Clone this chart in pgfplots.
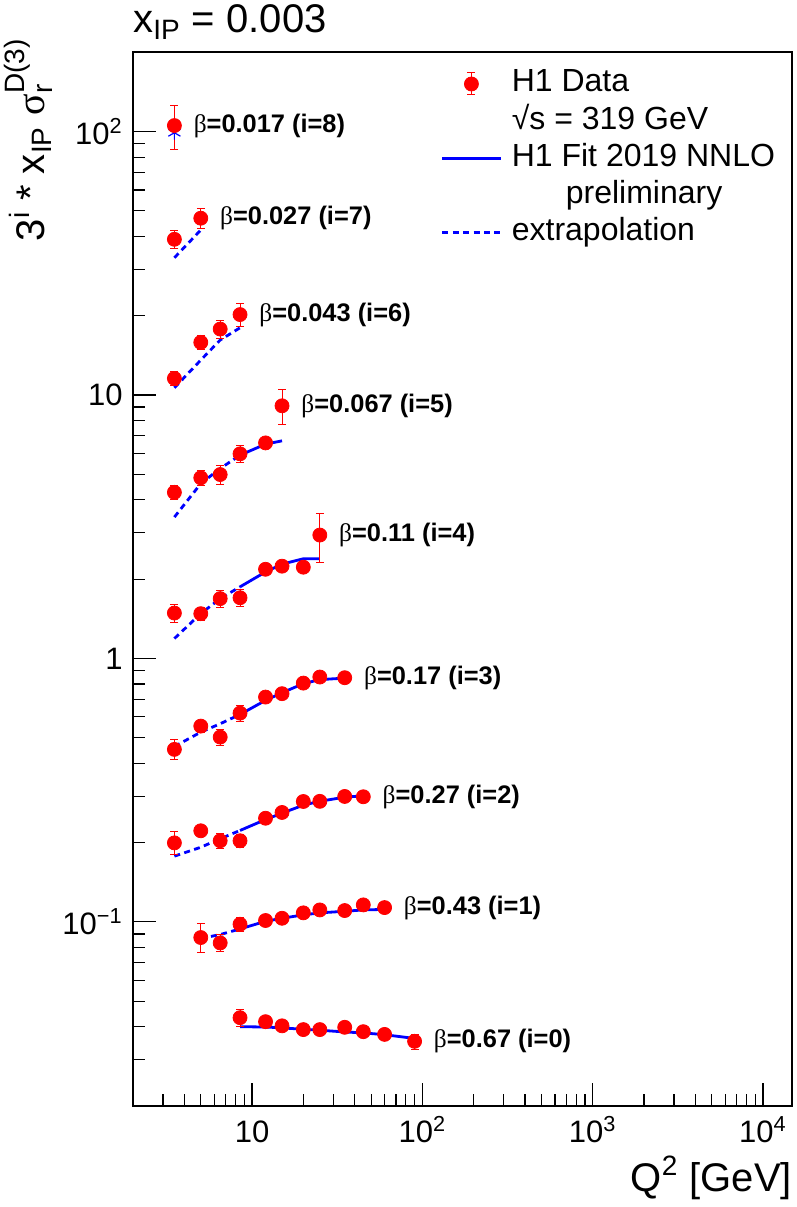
\documentclass[border=0pt]{standalone}
\usepackage{fontspec}
\setmainfont{Liberation Sans}
\newfontfamily\greekfont{Liberation Serif}
\usepackage{amsmath}
\usepackage{pgfplots}
\usepackage{pgfplotstable}
\pgfplotsset{compat=1.18}

% data: Q2, 3^i * xIP * sigma_r, error
\pgfplotstableread[row sep=\\]{x y e\\ 3.5 105.4 20\\}\dataviii
\pgfplotstableread[row sep=\\]{x y e\\ 3.5 39.0 3.0\\ 5 46.9 4.0\\}\datavii
\pgfplotstableread[row sep=\\]{x y e\\ 3.5 11.56 0.7\\ 5 15.84 1.0\\ 6.5 17.8 1.4\\ 8.5 20.2 2.0\\}\datavi
\pgfplotstableread[row sep=\\]{x y e\\ 3.5 4.27 0.25\\ 5 4.85 0.3\\ 6.5 4.99 0.4\\ 8.5 5.98 0.45\\ 12 6.58 0.3\\ 15 9.10 1.35\\}\datav
\pgfplotstableread[row sep=\\]{x y e\\ 3.5 1.487 0.12\\ 5 1.479 0.08\\ 6.5 1.687 0.12\\ 8.5 1.70 0.12\\ 12 2.18 0.08\\ 15 2.24 0.08\\ 20 2.22 0.08\\ 25 2.94 0.62\\}\dataiv
\pgfplotstableread[row sep=\\]{x y e\\ 3.5 0.4516 0.04\\ 5 0.5535 0.03\\ 6.5 0.5028 0.035\\ 8.5 0.620 0.045\\ 12 0.7135 0.03\\ 15 0.735 0.03\\ 20 0.806 0.03\\ 25 0.850 0.03\\ 35 0.845 0.03\\}\dataiii
\pgfplotstableread[row sep=\\]{x y e\\ 3.5 0.1995 0.02\\ 5 0.2217 0.01\\ 6.5 0.2032 0.014\\ 8.5 0.2032 0.012\\ 12 0.2474 0.01\\ 15 0.2602 0.01\\ 20 0.2864 0.01\\ 25 0.2868 0.01\\ 35 0.2993 0.01\\ 45 0.2985 0.01\\}\dataii
\pgfplotstableread[row sep=\\]{x y e\\ 5 0.0872 0.011\\ 6.5 0.0832 0.006\\ 8.5 0.0979 0.006\\ 12 0.1012 0.004\\ 15 0.1032 0.004\\ 20 0.1082 0.004\\ 25 0.111 0.004\\ 35 0.1104 0.004\\ 45 0.116 0.004\\ 60 0.1133 0.004\\}\datai
\pgfplotstableread[row sep=\\]{x y e\\ 8.5 0.04328 0.0033\\ 12 0.0418 0.0015\\ 15 0.0403 0.0015\\ 20 0.0390 0.0015\\ 25 0.0390 0.0015\\ 35 0.0398 0.0015\\ 45 0.0383 0.0015\\ 60 0.0374 0.0015\\ 90 0.0352 0.0023\\}\datazero

\pgfplotsset{
  fitline/.style={blue, line width=1.4pt, forget plot},
  extrap/.style={blue, line width=1.4pt, dash pattern=on 3pt off 2.2pt, forget plot},
  h1data/.style={only marks, mark=*, mark size=3.5pt, red, forget plot,
    mark options={fill=red, draw=red},
    error bars/.cd, y dir=both, y explicit,
    error bar style={red, line width=0.5pt},
    error mark options={red, line width=0.5pt, mark size=2pt, rotate=90}},
}

\begin{document}
\begin{tikzpicture}
\begin{axis}[
  xmode=log, ymode=log,
  scale only axis, width=329.65pt, height=526.85pt,
  xmin=2, xmax=14860, ymin=0.02, ymax=200,
  clip=false,
  axis line style={line width=0.9pt},
  tick pos=left,
  tick align=inside,
  major tick length=11.5pt, minor tick length=6pt,
  every tick/.style={black, line width=0.6pt},
  xtick={10,100,1000,10000},
  minor xtick={2,3,4,5,6,7,8,9,20,30,40,50,60,70,80,90,200,300,400,500,600,700,800,900,2000,3000,4000,5000,6000,7000,8000,9000},
  xticklabels={10, 10$^{\text{2}}$, 10$^{\text{3}}$, 10$^{\text{4}}$},
  ytick={0.1,1,10,100},
  minor ytick={0.02,0.03,0.04,0.05,0.06,0.07,0.08,0.09,0.2,0.3,0.4,0.5,0.6,0.7,0.8,0.9,2,3,4,5,6,7,8,9,20,30,40,50,60,70,80,90,200},
  yticklabels={10$^{\text{−1}}$, 1, 10, 10$^{\text{2}}$},
  tick label style={font=\fontsize{15.5}{15.5}\selectfont, inner sep=0pt},
  xticklabel style={anchor=base, yshift=-18pt},
  yticklabel style={anchor=east, xshift=-5pt},
  legend cell align=left,
  legend style={at={(0.4672,0.9851)}, anchor=north west, draw=none, fill=none,
    inner sep=0pt, outer sep=0pt, font=\fontsize{16}{16}\selectfont,
    row sep=2.6pt, nodes={inner sep=0pt, text height=12pt, text depth=4pt},
    /tikz/every odd column/.append style={column sep=4.5pt}},
]
\coordinate (BL) at (rel axis cs:0,0);
\coordinate (TR) at (rel axis cs:1,1);

% fits
\addplot[only marks, mark=asterisk, blue, mark size=3.5pt, line width=0.6pt, forget plot] coordinates {(3.5,99)};
\addplot[extrap] coordinates {(3.5,33.2) (5,42.3)};
\addplot[extrap] coordinates {(3.5,10.65) (5,13.57) (6.5,16.17) (8.5,18.0)};
\addplot[extrap] coordinates {(3.5,3.44) (5,4.61) (6.5,5.26) (8.5,5.91)};
\addplot[fitline] coordinates {(8.5,5.91) (12,6.51) (15,6.70)};
\addplot[extrap] coordinates {(3.5,1.19) (5,1.48) (6.5,1.687) (8.5,1.87)};
\addplot[fitline] coordinates {(8.5,1.87) (12,2.13) (15,2.28) (20,2.39) (25,2.39)};
\addplot[extrap] coordinates {(3.5,0.463) (5,0.525) (6.5,0.565) (8.5,0.613)};
\addplot[fitline] coordinates {(8.5,0.613) (12,0.693) (15,0.741) (20,0.802) (25,0.831) (35,0.842)};
\addplot[extrap] coordinates {(3.5,0.1776) (5,0.192) (6.5,0.2067) (8.5,0.2223)};
\addplot[fitline] coordinates {(8.5,0.2223) (12,0.2446) (15,0.2587) (20,0.2773) (25,0.287) (35,0.2974) (45,0.301)};
\addplot[extrap] coordinates {(5,0.0865) (6.5,0.0895) (8.5,0.094)};
\addplot[fitline] coordinates {(8.5,0.094) (12,0.1005) (15,0.1032) (20,0.1063) (25,0.1082) (35,0.1097) (45,0.111) (60,0.1115)};
\addplot[fitline] coordinates {(8.5,0.040) (12,0.0399) (15,0.0396) (20,0.0391) (25,0.0388) (35,0.0382) (45,0.0379) (60,0.0373) (90,0.0361)};

% data
\addplot[h1data] table[x=x, y=y, y error=e] {\dataviii};
\addplot[h1data] table[x=x, y=y, y error=e] {\datavii};
\addplot[h1data] table[x=x, y=y, y error=e] {\datavi};
\addplot[h1data] table[x=x, y=y, y error=e] {\datav};
\addplot[h1data] table[x=x, y=y, y error=e] {\dataiv};
\addplot[h1data] table[x=x, y=y, y error=e] {\dataiii};
\addplot[h1data] table[x=x, y=y, y error=e] {\dataii};
\addplot[h1data] table[x=x, y=y, y error=e] {\datai};
\addplot[h1data] table[x=x, y=y, y error=e] {\datazero};

% beta labels
\begin{scope}[every node/.style={anchor=west, inner sep=0pt, xshift=9.5pt, font=\fontsize{12.7}{12.7}\selectfont}]
\node at (axis cs:3.5,105.4) {{\greekfont β}\textbf{=0.017 (i=8)}};
\node at (axis cs:5,46.9) {{\greekfont β}\textbf{=0.027 (i=7)}};
\node at (axis cs:8.5,20.2) {{\greekfont β}\textbf{=0.043 (i=6)}};
\node at (axis cs:15,9.10) {{\greekfont β}\textbf{=0.067 (i=5)}};
\node at (axis cs:25,2.94) {{\greekfont β}\textbf{=0.11 (i=4)}};
\node at (axis cs:35,0.845) {{\greekfont β}\textbf{=0.17 (i=3)}};
\node at (axis cs:45,0.2985) {{\greekfont β}\textbf{=0.27 (i=2)}};
\node at (axis cs:60,0.1133) {{\greekfont β}\textbf{=0.43 (i=1)}};
\node at (axis cs:90,0.0352) {{\greekfont β}\textbf{=0.67 (i=0)}};
\end{scope}

% legend
\addlegendimage{legend image code/.code={
  \path[draw=none] (0pt,0pt) -- (29.5pt,0pt);
  \draw[red, line width=0.5pt] (14.5pt,-5.5pt) -- (14.5pt,5.5pt);
  \draw[red, line width=0.5pt] (12.5pt,5.5pt) -- (16.5pt,5.5pt);
  \draw[red, line width=0.5pt] (12.5pt,-5.5pt) -- (16.5pt,-5.5pt);
  \fill[red] (14.5pt,0pt) circle (3.5pt);}}
\addlegendentry{H1 Data}
\addlegendimage{empty legend}
\addlegendentry{√s = 319 GeV}
\addlegendimage{legend image code/.code={\draw[blue, line width=1.4pt] (0pt,0pt) -- (29.5pt,0pt);}}
\addlegendentry{H1 Fit 2019 NNLO}
\addlegendimage{empty legend}
\addlegendentry{\hspace*{27pt}preliminary}
\addlegendimage{legend image code/.code={\draw[blue, line width=1.4pt, dash pattern=on 3pt off 2.2pt] (0pt,0pt) -- (29.5pt,0pt);}}
\addlegendentry{extrapolation}

% title and axis labels
\node[anchor=base west, inner sep=0pt, font=\fontsize{20}{20}\selectfont] at ([yshift=9.65pt]rel axis cs:0,1) {x$_{\text{IP}}$ = 0.003};
\node[anchor=base east, inner sep=0pt, font=\fontsize{20}{20}\selectfont] at ([yshift=-42.5pt]rel axis cs:1,0) {Q$^{\text{2}}$ [GeV]};
\node[rotate=90, anchor=base east, inner sep=0pt, font=\fontsize{20}{20}\selectfont] at ([xshift=-44pt, yshift=7.15pt]rel axis cs:0,1) {3$^{\text{i}}$ * x$_{\text{IP}}$ {\greekfont σ}$^{\text{D(3)}}_{\text{r}}$};
\end{axis}
\pgfresetboundingbox
\useasboundingbox ([shift={(-66.5pt,-50.5pt)}]BL) rectangle ([shift={(1.85pt,26.15pt)}]TR);
\end{tikzpicture}
\end{document}
